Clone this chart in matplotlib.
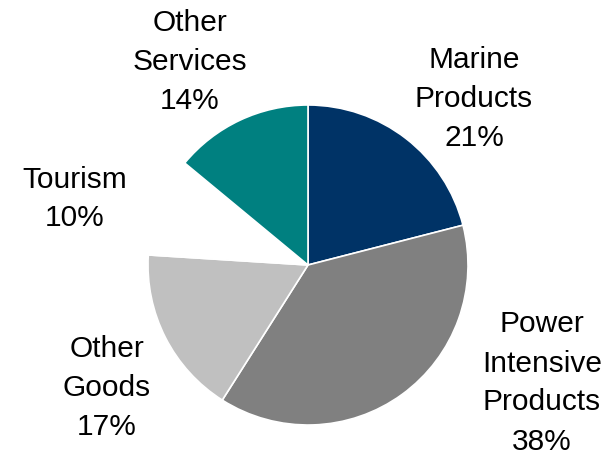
import numpy as np
import matplotlib.pyplot as plt

plt.rcParams['font.family'] = ['Liberation Sans', 'DejaVu Sans']

categories = ['Marine\nProducts', 'Power\nIntensive\nProducts', 'Other\nGoods', 'Tourism', 'Other\nServices']
shares = [21, 38, 17, 10, 14]
colors = ['#003366', '#808080', '#C0C0C0', '#FFFFFF', '#008080']

# label centres in pixel space (layout only)
label_xy = [(474, 355), (542, 71), (107, 66), (75, 255), (190, 392)]

fig = plt.figure(figsize=(6.05, 4.54), dpi=100)
ax = fig.add_axes([0, 0, 1, 1])
ax.pie(shares, colors=colors, startangle=90, counterclock=False,
       radius=160, center=(308, 189),
       wedgeprops={'edgecolor': 'white', 'linewidth': 1.2})
for name, val, (x, y) in zip(categories, shares, label_xy):
    ax.text(x, y, '%s\n%d%%' % (name, val), ha='center', va='center',
            fontsize=21.5, linespacing=1.5)
ax.set_xlim(0, 605)
ax.set_ylim(0, 454)
ax.set_aspect('equal')
ax.axis('off')

fig.savefig('out.png', dpi=100, facecolor='white')
